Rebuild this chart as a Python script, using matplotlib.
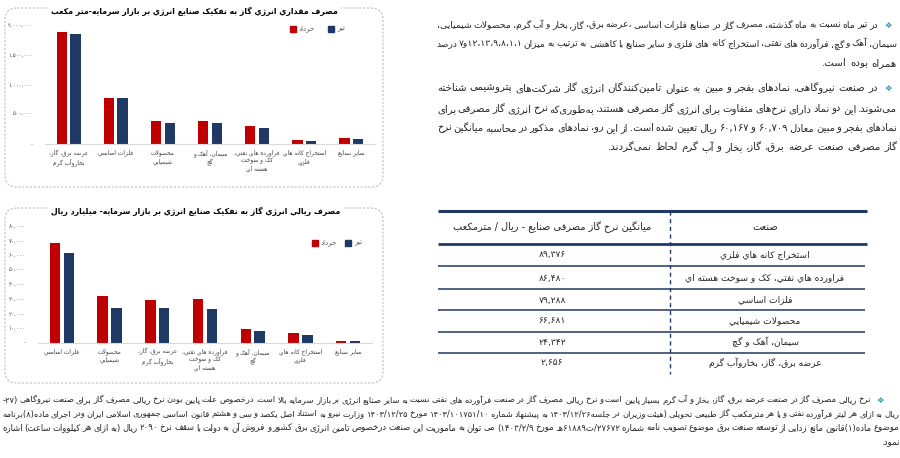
import re
import matplotlib
matplotlib.use("Agg")
import matplotlib.pyplot as plt
from matplotlib.patches import FancyBboxPatch, Rectangle
from matplotlib.ticker import FixedLocator, FixedFormatter

plt.rcParams['font.family'] = ['DejaVu Sans']

# ---- data ----
series_names = ["خرداد", "تير"]

cats_volume = ["عرضه برق، گاز،\nبخاروآب گرم", "فلزات اساسي", "محصولات\nشيميايي",
               "سيمان، آهک و\nگچ", "فراورده هاي نفتي،\nکک و سوخت\nهسته اي",
               "استخراج کانه هاي\nفلزي", "ساير صنايع"]
khordad_m3 = [1880000, 780000, 387000, 382000, 308000, 67000, 100000]
tir_m3 = [1857000, 769000, 354000, 348000, 264000, 50000, 90000]
yticks_volume = [0, 500000, 1000000, 1500000, 2000000]

cats_rial = ["فلزات اساسي", "محصولات\nشيميايي", "عرضه برق، گاز،\nبخاروآب گرم",
             "فراورده هاي نفتي،\nکک و سوخت\nهسته اي", "سيمان، آهک و\nگچ",
             "استخراج کانه هاي\nفلزي", "ساير صنايع"]
khordad_rial = [67900, 31900, 28900, 30000, 9600, 6400, 1400]
tir_rial = [61300, 23700, 23500, 23200, 8000, 5500, 900]
yticks_rial = [0, 10000, 20000, 30000, 40000, 50000, 60000, 70000, 80000]

title_volume = "مصرف مقداري انرژي گاز به تفکيک صنايع انرژي بر بازار سرمايه-متر مکعب"
title_rial = "مصرف ريالي انرژي گاز به تفکيک صنايع انرژي بر بازار سرمايه- ميليارد ريال"

table_header = ["ميانگين نرخ گاز مصرفی صنايع - ريال / مترمکعب", "صنعت"]
table_industry = ["استخراج کانه هاي فلزي", "فراورده هاي نفتي، کک و سوخت هسته اي",
                  "فلزات اساسي", "محصولات شيميايي", "سيمان، آهک و گچ",
                  "عرضه برق، گاز، بخاروآب گرم"]
table_rate = [89376, 86480, 79288, 66681, 24342, 2656]

para1 = [
    "در تیر ماه نسبت به ماه گذشته، مصرف گاز در صنایع  فلزات اساسی ،عرضه برق، گاز، بخار و آب گرم، محصولات شیمیایی،",
    "سیمان، آهک و گچ، فرآورده های نفتی، استخراج کانه های فلزی و سایر صنایع با کاهشی به ترتیب به میزان ۱،۱،۸،۹،۱۳،۱۲و۷ درصد",
    "همراه بوده است.",
]
para2 = [
    "در صنعت نیروگاهی، نمادهای بفجر و مبین به عنوان تامین‌کنندگان انرژی گاز شرکت‌های پتروشیمی شناخته",
    "می‌شوند. این دو نماد دارای نرخ‌های متفاوت برای انرژی گاز مصرفی هستند، به‌طوری‌که نرخ انرژی گاز مصرفی برای",
    "نمادهای بفجر و مبین معادل ۶۰,۷۰۹ و ۶۰,۱۶۷ ریال تعیین شده است. از این رو، نمادهای مذکور در محاسبه میانگین نرخ",
    "گاز مصرفی صنعت عرضه برق، گاز، بخار و آب گرم لحاظ نمی‌گردند.",
]
para3 = [
    "نرخ ریالی مصرف گاز در صنعت عرضه برق، گاز، بخار و آب گرم بسیار پایین است و نرخ ریالی مصرف گاز در صنعت فرآورده های نفتی نسبت به سایر صنایع انرژی بر بازار سرمایه بالا است. درخصوص علت پایین بودن نرخ ریالی مصرف گاز برای صنعت نیروگاهی (۲۷-",
    "ریال به ازای هر لیتر فرآورده نفتی و یا هر مترمکعب گاز طبیعی تحویلی (هیئت وزیران در جلسه۱۴۰۳/۱۲/۲۶ به پیشنهاد شماره ۱۴۰۳/۱۰۱۷۵۱/۱۰ مورخ ۱۴۰۳/۱۲/۲۵ وزارت نیرو به استناد اصل یکصد و سی و هشتم قانون اساسی جمهوری اسلامی ایران ودر اجرای ماده(۸)برنامه",
    "موضوع ماده(۱)قانون مانع زدایی از توسعه صنعت برق موضوع تصویب نامه شماره ۲۷۶۷۲/ت۶۱۸۸۹هـ مورخ ۱۴۰۳/۲/۹) می توان به ماموریت این صنعت درخصوص تامین انرژی برق کشور و فروش آن به دولت  با سقف نرخ  ۲۰۹۰  ریال (به ازای هر کیلووات ساعت) اشاره",
    "نمود.",
]

RED = "#C00000"
NAVY = "#1F3864"
TXT = "#262626"
GRAY = "#595959"

# ---- simple arabic shaping + rtl ordering ----
dual = {'ئ': 0xFE89, 'ب': 0xFE8F, 'ت': 0xFE95, 'ث': 0xFE99, 'ج': 0xFE9D, 'ح': 0xFEA1,
        'خ': 0xFEA5, 'س': 0xFEB1, 'ش': 0xFEB5, 'ص': 0xFEB9, 'ض': 0xFEBD, 'ط': 0xFEC1,
        'ظ': 0xFEC5, 'ع': 0xFEC9, 'غ': 0xFECD, 'ف': 0xFED1, 'ق': 0xFED5, 'ك': 0xFED9,
        'ل': 0xFEDD, 'م': 0xFEE1, 'ن': 0xFEE5, 'ه': 0xFEE9, 'ي': 0xFEF1, 'پ': 0xFB56,
        'چ': 0xFB7A, 'ک': 0xFB8E, 'گ': 0xFB92, 'ی': 0xFBFC}
right = {'آ': 0xFE81, 'أ': 0xFE83, 'ؤ': 0xFE85, 'إ': 0xFE87, 'ا': 0xFE8D, 'ة': 0xFE93,
         'د': 0xFEA9, 'ذ': 0xFEAB, 'ر': 0xFEAD, 'ز': 0xFEAF, 'و': 0xFEED, 'ى': 0xFEEF,
         'ژ': 0xFB8A}
FORMS = {c: (chr(b), chr(b + 1), chr(b + 2), chr(b + 3)) for c, b in dual.items()}
FORMS.update({c: (chr(b), chr(b + 1), None, None) for c, b in right.items()})
FORMS['ـ'] = ('ـ', 'ـ', 'ـ', 'ـ')
LAM_ALEF = {'ا': (0xFEFB, 0xFEFC), 'آ': (0xFEF5, 0xFEF6), 'أ': (0xFEF7, 0xFEF8), 'إ': (0xFEF9, 0xFEFA)}
DIG = '0-9\u06F0-\u06F9'
NUM_RE = re.compile('[' + DIG + ']+(?:[,./:][' + DIG + ']+)*')


def joins_next(c):
    return c in FORMS and FORMS[c][2] is not None


def shape(s):
    out = []
    i = 0
    while i < len(s):
        c = s[i]
        if c not in FORMS:
            if c != '\u200c':
                out.append(c)
            i += 1
            continue
        p = i > 0 and joins_next(s[i - 1])
        nxt = s[i + 1] if i + 1 < len(s) else ''
        if c == 'ل' and nxt in LAM_ALEF:
            iso, fin = LAM_ALEF[nxt]
            out.append(chr(fin if p else iso))
            i += 2
            continue
        q = joins_next(c) and nxt in FORMS
        iso, fin, ini, med = FORMS[c]
        out.append(med if (p and q) else fin if p else ini if q else iso)
        i += 1
    return ''.join(out)


def rtl(s):
    lines = []
    for line in s.split('\n'):
        v = shape(line)[::-1]
        v = v.translate(str.maketrans('()', ')('))
        v = NUM_RE.sub(lambda m: m.group(0)[::-1], v)
        lines.append(v)
    return '\n'.join(lines)


def fa(s):
    return s.translate(str.maketrans('0123456789', '۰۱۲۳۴۵۶۷۸۹'))


# ---- figure ----
W, H = 900, 458
fig = plt.figure(figsize=(9, 4.58), dpi=100)
bg = fig.add_axes([0, 0, 1, 1], zorder=0)
bg.set_xlim(0, W)
bg.set_ylim(H, 0)
bg.axis('off')
renderer = fig.canvas.get_renderer()


def chart(top, bottom, left, rightx, box, title, title_x, title_y, cats, s1, s2, ticks, legend_x, legend_y):
    bx0, by0, bx1, by1 = box
    bg.add_patch(FancyBboxPatch((bx0, by0), bx1 - bx0, by1 - by0,
                                boxstyle="round,pad=0,rounding_size=12", fill=False,
                                ec="#BFBFBF", lw=0.8, ls=(0, (2, 1.5))))
    bg.text(title_x, title_y, rtl(title), fontsize=5.6, fontweight='bold', ha='center', va='center',
            color='black', bbox=dict(fc='white', ec='none', pad=2.5), zorder=3)
    ax = fig.add_axes([left / W, 1 - bottom / H, (rightx - left) / W, (bottom - top) / H], zorder=2)
    ax.patch.set_alpha(0)
    x = list(range(len(cats)))
    ax.bar([i - 0.145 for i in x], s1, width=0.22, color=RED)
    ax.bar([i + 0.145 for i in x], s2, width=0.22, color=NAVY)
    ax.set_xlim(-0.5, len(cats) - 0.5)
    ax.set_ylim(0, ticks[-1])
    for sp in ['top', 'right', 'left']:
        ax.spines[sp].set_visible(False)
    ax.spines['bottom'].set_color('#D9D9D9')
    ax.yaxis.set_major_locator(FixedLocator(ticks))
    ax.yaxis.set_major_formatter(FixedFormatter(['-'] + [fa(f"{v:,}") for v in ticks[1:]]))
    ax.tick_params(axis='y', length=0, labelsize=4.0, labelcolor=GRAY, pad=9)
    ax.set_xticks(x)
    ax.set_xticklabels([rtl(c) for c in cats], fontsize=4.2, color="#404040", linespacing=1.3)
    ax.tick_params(axis='x', length=0, pad=4)
    # legend
    lx, ly = legend_x
    bg.add_patch(Rectangle((lx, legend_y - 3), 6, 6, color=RED))
    bg.text(lx + 9, legend_y, rtl(series_names[0]), fontsize=5.0, color=GRAY, va='center', ha='left')
    bg.add_patch(Rectangle((ly, legend_y - 3), 6, 6, color=NAVY))
    bg.text(ly + 9, legend_y, rtl(series_names[1]), fontsize=5.0, color=GRAY, va='center', ha='left')
    return ax


chart(25, 144, 45, 375, (5, 8, 383, 187), title_volume, 194, 11,
      cats_volume, khordad_m3, tir_m3, yticks_volume, (290, 328), 29)
chart(225.7, 342.7, 38, 372, (5, 208, 383, 383), title_rial, 196, 211,
      cats_rial, khordad_rial, tir_rial, yticks_rial, (312, 345), 243)


# ---- paragraphs ----
def rtl_line(text, x_right, y, size, x_left=None, color=TXT):
    words = [w for w in text.split(' ') if w]
    ts = [bg.text(x_right, y, rtl(w), fontsize=size, ha='right', va='center', color=color) for w in words]
    ws = [t.get_window_extent(renderer).width for t in ts]
    space = size * 1.389 * 0.32
    if x_left is not None and len(ws) > 1:
        avail = x_right - x_left
        need = sum(ws) + space * 0.6 * (len(ws) - 1)
        if need > avail:
            k = avail / need
            for t in ts:
                t.set_fontsize(size * k)
            ws = [w * k for w in ws]
        gap = (avail - sum(ws)) / (len(ws) - 1)
    else:
        gap = space
    x = x_right
    for t, w in zip(ts, ws):
        t.set_x(x)
        x -= w + gap


def paragraph(lines, ys, bullet_x, first_right, right, left, size):
    bg.text(bullet_x, ys[0], '\u2756', fontsize=6, color="#2E9AA8", ha='center', va='center')
    for i, (line, y) in enumerate(zip(lines, ys)):
        xr = first_right if i == 0 else right
        last = i == len(lines) - 1
        rtl_line(line, xr, y, size, None if last else left)


paragraph(para1, [25, 44, 63], 888, 878, 897, 437, 7.4)
paragraph(para2, [88, 109, 128, 147], 888, 878, 897, 437, 7.4)
paragraph(para3, [400, 414, 428, 443], 880, 871, 899, 2, 6.3)

# ---- table ----
tx0, tx1 = 438, 867
bg.plot([tx0, tx1], [211, 211], color=NAVY, lw=2.2, solid_capstyle='butt')
bg.plot([tx0, tx1], [244, 244], color=NAVY, lw=2.0, solid_capstyle='butt')
for yl in [266, 289, 310, 332, 353]:
    bg.plot([tx0, tx1 - 2], [yl, yl], color=NAVY, lw=1.1, solid_capstyle='butt')
bg.plot([670, 670], [211, 374], color=NAVY, lw=1.0, ls=(0, (3, 2.5)))
bg.text(552, 227, rtl(table_header[0]), fontsize=7, ha='center', va='center', color=TXT)
bg.text(765, 227, rtl(table_header[1]), fontsize=7, ha='center', va='center', color=TXT)
row_y = [255, 278, 300, 321, 342, 363]
for name, rate, y in zip(table_industry, table_rate, row_y):
    bg.text(765, y, rtl(name), fontsize=6.6, ha='center', va='center', color=TXT)
    bg.text(552, y, fa(f"{rate:,}"), fontsize=6.6, ha='center', va='center', color=TXT)

fig.savefig("out.png", dpi=100)
